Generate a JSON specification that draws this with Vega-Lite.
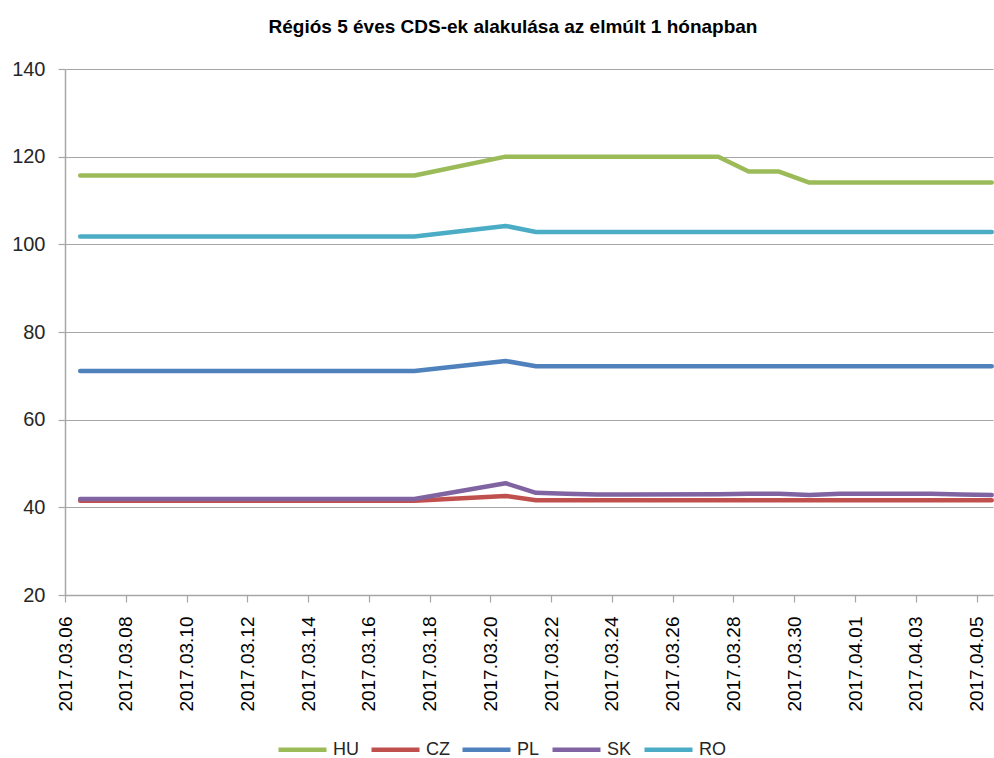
{
  "$schema": "https://vega.github.io/schema/vega-lite/v6.json",
  "width": 928,
  "height": 526,
  "autosize": {"type": "none"},
  "padding": {"left": 65, "top": 69, "right": 1, "bottom": 163},
  "background": "white",
  "title": {
    "text": "Régiós 5 éves CDS-ek alakulása az elmúlt 1 hónapban",
    "font": "Liberation Sans",
    "fontSize": 19,
    "fontWeight": "bold",
    "color": "#000000",
    "anchor": "middle",
    "dx": -16,
    "offset": 22
  },
  "data": {
    "values": [
      {"date": "2017-03-06T12:00:00", "country": "HU", "cds": 115.7},
      {"date": "2017-03-07T12:00:00", "country": "HU", "cds": 115.7},
      {"date": "2017-03-08T12:00:00", "country": "HU", "cds": 115.7},
      {"date": "2017-03-09T12:00:00", "country": "HU", "cds": 115.7},
      {"date": "2017-03-10T12:00:00", "country": "HU", "cds": 115.7},
      {"date": "2017-03-13T12:00:00", "country": "HU", "cds": 115.7},
      {"date": "2017-03-14T12:00:00", "country": "HU", "cds": 115.7},
      {"date": "2017-03-15T12:00:00", "country": "HU", "cds": 115.7},
      {"date": "2017-03-16T12:00:00", "country": "HU", "cds": 115.7},
      {"date": "2017-03-17T12:00:00", "country": "HU", "cds": 115.7},
      {"date": "2017-03-20T12:00:00", "country": "HU", "cds": 120.0},
      {"date": "2017-03-21T12:00:00", "country": "HU", "cds": 120.0},
      {"date": "2017-03-22T12:00:00", "country": "HU", "cds": 120.0},
      {"date": "2017-03-23T12:00:00", "country": "HU", "cds": 120.0},
      {"date": "2017-03-24T12:00:00", "country": "HU", "cds": 120.0},
      {"date": "2017-03-27T12:00:00", "country": "HU", "cds": 120.0},
      {"date": "2017-03-28T12:00:00", "country": "HU", "cds": 116.6},
      {"date": "2017-03-29T12:00:00", "country": "HU", "cds": 116.6},
      {"date": "2017-03-30T12:00:00", "country": "HU", "cds": 114.1},
      {"date": "2017-03-31T12:00:00", "country": "HU", "cds": 114.1},
      {"date": "2017-04-03T12:00:00", "country": "HU", "cds": 114.1},
      {"date": "2017-04-04T12:00:00", "country": "HU", "cds": 114.1},
      {"date": "2017-04-05T12:00:00", "country": "HU", "cds": 114.1},

      {"date": "2017-03-06T12:00:00", "country": "CZ", "cds": 41.5},
      {"date": "2017-03-07T12:00:00", "country": "CZ", "cds": 41.5},
      {"date": "2017-03-08T12:00:00", "country": "CZ", "cds": 41.5},
      {"date": "2017-03-09T12:00:00", "country": "CZ", "cds": 41.5},
      {"date": "2017-03-10T12:00:00", "country": "CZ", "cds": 41.5},
      {"date": "2017-03-13T12:00:00", "country": "CZ", "cds": 41.5},
      {"date": "2017-03-14T12:00:00", "country": "CZ", "cds": 41.5},
      {"date": "2017-03-15T12:00:00", "country": "CZ", "cds": 41.5},
      {"date": "2017-03-16T12:00:00", "country": "CZ", "cds": 41.5},
      {"date": "2017-03-17T12:00:00", "country": "CZ", "cds": 41.5},
      {"date": "2017-03-20T12:00:00", "country": "CZ", "cds": 42.6},
      {"date": "2017-03-21T12:00:00", "country": "CZ", "cds": 41.6},
      {"date": "2017-03-22T12:00:00", "country": "CZ", "cds": 41.6},
      {"date": "2017-03-23T12:00:00", "country": "CZ", "cds": 41.6},
      {"date": "2017-03-24T12:00:00", "country": "CZ", "cds": 41.6},
      {"date": "2017-03-27T12:00:00", "country": "CZ", "cds": 41.6},
      {"date": "2017-03-28T12:00:00", "country": "CZ", "cds": 41.6},
      {"date": "2017-03-29T12:00:00", "country": "CZ", "cds": 41.6},
      {"date": "2017-03-30T12:00:00", "country": "CZ", "cds": 41.6},
      {"date": "2017-03-31T12:00:00", "country": "CZ", "cds": 41.6},
      {"date": "2017-04-03T12:00:00", "country": "CZ", "cds": 41.6},
      {"date": "2017-04-04T12:00:00", "country": "CZ", "cds": 41.6},
      {"date": "2017-04-05T12:00:00", "country": "CZ", "cds": 41.6},

      {"date": "2017-03-06T12:00:00", "country": "PL", "cds": 71.1},
      {"date": "2017-03-07T12:00:00", "country": "PL", "cds": 71.1},
      {"date": "2017-03-08T12:00:00", "country": "PL", "cds": 71.1},
      {"date": "2017-03-09T12:00:00", "country": "PL", "cds": 71.1},
      {"date": "2017-03-10T12:00:00", "country": "PL", "cds": 71.1},
      {"date": "2017-03-13T12:00:00", "country": "PL", "cds": 71.1},
      {"date": "2017-03-14T12:00:00", "country": "PL", "cds": 71.1},
      {"date": "2017-03-15T12:00:00", "country": "PL", "cds": 71.1},
      {"date": "2017-03-16T12:00:00", "country": "PL", "cds": 71.1},
      {"date": "2017-03-17T12:00:00", "country": "PL", "cds": 71.1},
      {"date": "2017-03-20T12:00:00", "country": "PL", "cds": 73.4},
      {"date": "2017-03-21T12:00:00", "country": "PL", "cds": 72.2},
      {"date": "2017-03-22T12:00:00", "country": "PL", "cds": 72.2},
      {"date": "2017-03-23T12:00:00", "country": "PL", "cds": 72.2},
      {"date": "2017-03-24T12:00:00", "country": "PL", "cds": 72.2},
      {"date": "2017-03-27T12:00:00", "country": "PL", "cds": 72.2},
      {"date": "2017-03-28T12:00:00", "country": "PL", "cds": 72.2},
      {"date": "2017-03-29T12:00:00", "country": "PL", "cds": 72.2},
      {"date": "2017-03-30T12:00:00", "country": "PL", "cds": 72.2},
      {"date": "2017-03-31T12:00:00", "country": "PL", "cds": 72.2},
      {"date": "2017-04-03T12:00:00", "country": "PL", "cds": 72.2},
      {"date": "2017-04-04T12:00:00", "country": "PL", "cds": 72.2},
      {"date": "2017-04-05T12:00:00", "country": "PL", "cds": 72.2},

      {"date": "2017-03-06T12:00:00", "country": "SK", "cds": 41.9},
      {"date": "2017-03-07T12:00:00", "country": "SK", "cds": 41.9},
      {"date": "2017-03-08T12:00:00", "country": "SK", "cds": 41.9},
      {"date": "2017-03-09T12:00:00", "country": "SK", "cds": 41.9},
      {"date": "2017-03-10T12:00:00", "country": "SK", "cds": 41.9},
      {"date": "2017-03-13T12:00:00", "country": "SK", "cds": 41.9},
      {"date": "2017-03-14T12:00:00", "country": "SK", "cds": 41.9},
      {"date": "2017-03-15T12:00:00", "country": "SK", "cds": 41.9},
      {"date": "2017-03-16T12:00:00", "country": "SK", "cds": 41.9},
      {"date": "2017-03-17T12:00:00", "country": "SK", "cds": 41.9},
      {"date": "2017-03-20T12:00:00", "country": "SK", "cds": 45.5},
      {"date": "2017-03-21T12:00:00", "country": "SK", "cds": 43.3},
      {"date": "2017-03-22T12:00:00", "country": "SK", "cds": 43.1},
      {"date": "2017-03-23T12:00:00", "country": "SK", "cds": 42.9},
      {"date": "2017-03-24T12:00:00", "country": "SK", "cds": 42.9},
      {"date": "2017-03-27T12:00:00", "country": "SK", "cds": 43.0},
      {"date": "2017-03-28T12:00:00", "country": "SK", "cds": 43.1},
      {"date": "2017-03-29T12:00:00", "country": "SK", "cds": 43.1},
      {"date": "2017-03-30T12:00:00", "country": "SK", "cds": 42.8},
      {"date": "2017-03-31T12:00:00", "country": "SK", "cds": 43.1},
      {"date": "2017-04-03T12:00:00", "country": "SK", "cds": 43.1},
      {"date": "2017-04-04T12:00:00", "country": "SK", "cds": 42.9},
      {"date": "2017-04-05T12:00:00", "country": "SK", "cds": 42.8},

      {"date": "2017-03-06T12:00:00", "country": "RO", "cds": 101.8},
      {"date": "2017-03-07T12:00:00", "country": "RO", "cds": 101.8},
      {"date": "2017-03-08T12:00:00", "country": "RO", "cds": 101.8},
      {"date": "2017-03-09T12:00:00", "country": "RO", "cds": 101.8},
      {"date": "2017-03-10T12:00:00", "country": "RO", "cds": 101.8},
      {"date": "2017-03-13T12:00:00", "country": "RO", "cds": 101.8},
      {"date": "2017-03-14T12:00:00", "country": "RO", "cds": 101.8},
      {"date": "2017-03-15T12:00:00", "country": "RO", "cds": 101.8},
      {"date": "2017-03-16T12:00:00", "country": "RO", "cds": 101.8},
      {"date": "2017-03-17T12:00:00", "country": "RO", "cds": 101.8},
      {"date": "2017-03-20T12:00:00", "country": "RO", "cds": 104.2},
      {"date": "2017-03-21T12:00:00", "country": "RO", "cds": 102.8},
      {"date": "2017-03-22T12:00:00", "country": "RO", "cds": 102.8},
      {"date": "2017-03-23T12:00:00", "country": "RO", "cds": 102.8},
      {"date": "2017-03-24T12:00:00", "country": "RO", "cds": 102.8},
      {"date": "2017-03-27T12:00:00", "country": "RO", "cds": 102.8},
      {"date": "2017-03-28T12:00:00", "country": "RO", "cds": 102.8},
      {"date": "2017-03-29T12:00:00", "country": "RO", "cds": 102.8},
      {"date": "2017-03-30T12:00:00", "country": "RO", "cds": 102.8},
      {"date": "2017-03-31T12:00:00", "country": "RO", "cds": 102.8},
      {"date": "2017-04-03T12:00:00", "country": "RO", "cds": 102.8},
      {"date": "2017-04-04T12:00:00", "country": "RO", "cds": 102.8},
      {"date": "2017-04-05T12:00:00", "country": "RO", "cds": 102.8}
    ]
  },
  "mark": {"type": "line", "strokeWidth": 4.5, "strokeCap": "round", "strokeJoin": "round"},
  "encoding": {
    "x": {
      "field": "date",
      "type": "temporal",
      "scale": {
        "domain": [
          {"year": 2017, "month": 3, "date": 6, "hours": 0},
          {"year": 2017, "month": 4, "date": 5, "hours": 13}
        ]
      },
      "axis": {
        "title": null,
        "values": [
          {"year": 2017, "month": 3, "date": 6},
          {"year": 2017, "month": 3, "date": 8},
          {"year": 2017, "month": 3, "date": 10},
          {"year": 2017, "month": 3, "date": 12},
          {"year": 2017, "month": 3, "date": 14},
          {"year": 2017, "month": 3, "date": 16},
          {"year": 2017, "month": 3, "date": 18},
          {"year": 2017, "month": 3, "date": 20},
          {"year": 2017, "month": 3, "date": 22},
          {"year": 2017, "month": 3, "date": 24},
          {"year": 2017, "month": 3, "date": 26},
          {"year": 2017, "month": 3, "date": 28},
          {"year": 2017, "month": 3, "date": 30},
          {"year": 2017, "month": 4, "date": 1},
          {"year": 2017, "month": 4, "date": 3},
          {"year": 2017, "month": 4, "date": 5}
        ],
        "format": "%Y.%m.%d",
        "labelAngle": -90,
        "labelFont": "Liberation Sans",
        "labelFontSize": 19,
        "labelColor": "#000000",
        "labelPadding": 14,
        "labelOverlap": false,
        "labelFlush": false,
        "grid": false,
        "domainColor": "#a6a6a6",
        "domainWidth": 1.5,
        "tickColor": "#a6a6a6",
        "tickSize": 7,
        "tickWidth": 1.2
      }
    },
    "y": {
      "field": "cds",
      "type": "quantitative",
      "scale": {"domain": [20, 140], "nice": false, "zero": false},
      "axis": {
        "title": null,
        "values": [20, 40, 60, 80, 100, 120, 140],
        "labelFont": "Liberation Sans",
        "labelFontSize": 20,
        "labelColor": "#262626",
        "labelPadding": 13,
        "grid": true,
        "gridColor": "#a6a6a6",
        "gridWidth": 1.2,
        "domainColor": "#a6a6a6",
        "domainWidth": 1.5,
        "tickColor": "#a6a6a6",
        "tickSize": 7,
        "tickWidth": 1.2
      }
    },
    "color": {
      "field": "country",
      "type": "nominal",
      "sort": ["HU", "CZ", "PL", "SK", "RO"],
      "scale": {
        "domain": ["HU", "CZ", "PL", "SK", "RO"],
        "range": ["#9BBB59", "#C0504D", "#4F81BD", "#8064A2", "#4BACC6"]
      },
      "legend": {
        "title": null,
        "orient": "none",
        "legendX": 211,
        "legendY": 654,
        "direction": "horizontal",
        "symbolType": "stroke",
        "symbolSize": 2304,
        "symbolStrokeWidth": 4.5,
        "labelFont": "Liberation Sans",
        "labelFontSize": 18,
        "labelColor": "#262626",
        "labelOffset": 4,
        "columnPadding": 3
      }
    }
  },
  "config": {"view": {"stroke": null}}
}
